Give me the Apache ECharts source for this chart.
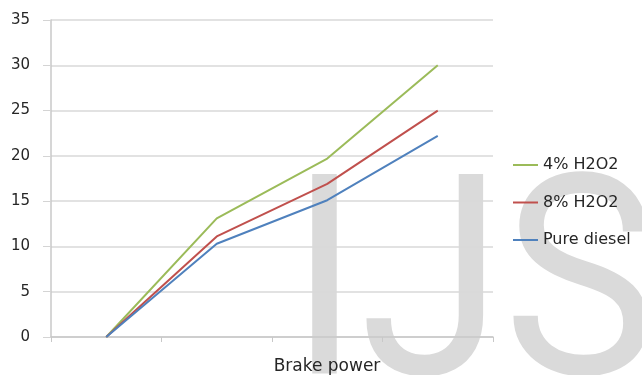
<!DOCTYPE html>
<html>
<head>
<meta charset="utf-8">
<script src="https://cdn.jsdelivr.net/npm/echarts@6/dist/echarts.min.js"></script>
<style>
  html, body { margin: 0; padding: 0; background: #fff; }
  #chart { width: 642px; height: 375px; }
</style>
</head>
<body>
<div id="chart"></div>
<script>
// Brake power categories (unlabelled on the axis)
const categories = ['', '', '', ''];
const h2o2_4 = [0, 13.1, 19.7, 30.0];
const h2o2_8 = [0, 11.1, 16.9, 25.0];
const pureDiesel = [0, 10.3, 15.1, 22.2];
const yTicks = { min: 0, max: 35, interval: 5 };

const font = '"DejaVu Sans", "Open Sans", sans-serif';
const chart = echarts.init(document.getElementById('chart'), null, { renderer: 'canvas' });

function lineSeries(name, data, color) {
  return {
    name: name,
    type: 'line',
    data: data,
    symbol: 'none',
    z: 5,
    lineStyle: { color: color, width: 2 },
    itemStyle: { color: color }
  };
}

chart.setOption({
  animation: false,
  backgroundColor: '#ffffff',
  grid: { left: 51, right: 149, top: 20, bottom: 38, outerBoundsMode: 'none', containLabel: false },
  graphic: [{
    type: 'text',
    x: 289,
    y: 163,
    scaleY: 1.08,
    z: -10,
    silent: true,
    style: {
      text: 'IJS',
      fill: '#dadada',
      fontFamily: 'Roboto',
      fontSize: 260,
      verticalAlign: 'top'
    }
  }],
  legend: {
    orient: 'vertical',
    left: 508,
    top: 152,
    itemGap: 21.5,
    itemWidth: 25,
    itemHeight: 2,
    icon: 'rect',
    textStyle: { fontFamily: font, fontSize: 16, color: '#262626' },
    data: ['4% H2O2', '8% H2O2', 'Pure diesel']
  },
  xAxis: {
    type: 'category',
    data: categories,
    boundaryGap: true,
    name: 'Brake power',
    nameLocation: 'middle',
    nameGap: 21,
    nameTextStyle: { fontFamily: font, fontSize: 17, color: '#262626', padding: [0, 0, 0, 110] },
    axisLine: { lineStyle: { color: '#c8c8c8', width: 1.5 } },
    axisTick: { show: true, length: 5, lineStyle: { color: '#c8c8c8' } },
    axisLabel: { show: false }
  },
  yAxis: {
    type: 'value',
    min: yTicks.min,
    max: yTicks.max,
    interval: yTicks.interval,
    axisLine: { show: true, lineStyle: { color: '#c8c8c8', width: 1.5 } },
    axisTick: { show: true, length: 8, lineStyle: { color: '#d4d4d4' } },
    axisLabel: { fontFamily: font, fontSize: 15, color: '#262626', margin: 21 },
    splitLine: { lineStyle: { color: '#d9d9d9', width: 1.5 } }
  },
  series: [
    lineSeries('4% H2O2', h2o2_4, '#9bbb59'),
    lineSeries('8% H2O2', h2o2_8, '#c0504d'),
    lineSeries('Pure diesel', pureDiesel, '#4f81bd')
  ]
});
</script>
</body>
</html>
